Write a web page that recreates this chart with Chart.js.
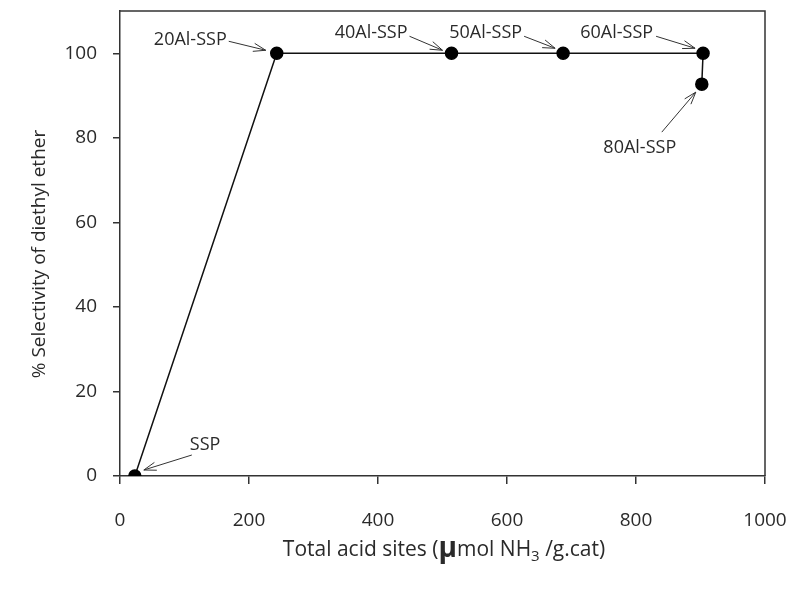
<!DOCTYPE html>
<html>
<head>
<meta charset="utf-8">
<script src="https://cdn.jsdelivr.net/npm/chart.js@4/dist/chart.umd.min.js"></script>
<style>
  html, body { margin: 0; padding: 0; background: #fff; }
  #wrap { width: 792px; height: 593px; }
</style>
</head>
<body>
<div id="wrap"><canvas id="c" width="792" height="593"></canvas></div>
<script>
// Catalyst samples, total acid sites (µmol NH3/g.cat) and DEE selectivity (%)
const samples     = ['SSP', '20Al-SSP', '40Al-SSP', '50Al-SSP', '60Al-SSP', '80Al-SSP'];
const acidSites   = [23, 243, 514, 687, 904, 902];
const selectivity = [0, 100, 100, 100, 100, 92.7];
const xTicks = [0, 200, 400, 600, 800, 1000];
const yTicks = [0, 20, 40, 60, 80, 100];

// label placement around each point: text anchor offset and arrow tail/tip offsets (px)
const labelPlacement = {
  'SSP':      { tx: 55,  ty: -31, align: 'left',   ax0: 57,  ay0: -21, ax1: 9,   ay1: -6 },
  '20Al-SSP': { tx: -50, ty: -13, align: 'right',  ax0: -48, ay0: -12, ax1: -11, ay1: -3 },
  '40Al-SSP': { tx: -44, ty: -20, align: 'right',  ax0: -42, ay0: -17, ax1: -9,  ay1: -3 },
  '50Al-SSP': { tx: -41, ty: -20, align: 'right',  ax0: -39, ay0: -17, ax1: -8,  ay1: -5 },
  '60Al-SSP': { tx: -50, ty: -20, align: 'right',  ax0: -47, ay0: -17, ax1: -8,  ay1: -5 },
  '80Al-SSP': { tx: -62, ty: 64,  align: 'center', ax0: -40, ay0: 48,  ax1: -6,  ay1: 8 }
};

const FONT = '"Open Sans", "DejaVu Sans", sans-serif';
const TEXT = '#2a2a2a';

function arrow(ctx, x0, y0, x1, y1) {
  ctx.beginPath();
  ctx.moveTo(x0, y0);
  ctx.lineTo(x1, y1);
  const a = Math.atan2(y1 - y0, x1 - x0);
  const L = 13, w = 0.32;
  ctx.moveTo(x1 - L * Math.cos(a - w), y1 - L * Math.sin(a - w));
  ctx.lineTo(x1, y1);
  ctx.lineTo(x1 - L * Math.cos(a + w), y1 - L * Math.sin(a + w));
  ctx.stroke();
}

const decorations = {
  id: 'decorations',
  afterDraw(chart) {
    const ctx = chart.ctx;
    const area = chart.chartArea;
    const xs = chart.scales.x, ys = chart.scales.y;
    ctx.save();
    // frame: top and right edges
    ctx.strokeStyle = '#333';
    ctx.lineWidth = 1.5;
    ctx.beginPath();
    ctx.moveTo(area.left, area.top);
    ctx.lineTo(area.right, area.top);
    ctx.lineTo(area.right, area.bottom);
    ctx.stroke();

    // point labels with arrows
    ctx.font = '18px ' + FONT;
    ctx.fillStyle = TEXT;
    ctx.textBaseline = 'middle';
    ctx.strokeStyle = '#333';
    ctx.lineWidth = 1;
    samples.forEach((s, i) => {
      const p = labelPlacement[s];
      const px = xs.getPixelForValue(acidSites[i]);
      const py = ys.getPixelForValue(selectivity[i]);
      ctx.textAlign = p.align;
      ctx.fillText(s, px + p.tx, py + p.ty);
      arrow(ctx, px + p.ax0, py + p.ay0, px + p.ax1, py + p.ay1);
    });

    // y axis title
    ctx.save();
    ctx.translate(40, 254);
    ctx.rotate(-Math.PI / 2);
    ctx.textAlign = 'center';
    ctx.textBaseline = 'middle';
    ctx.font = '19px ' + FONT;
    ctx.fillText('% Selectivity of diethyl ether', 0, 0);
    ctx.restore();

    // x axis title with µ and subscript
    const parts = [
      { t: 'Total acid sites (', f: '21px ' + FONT, dy: 0 },
      { t: 'μ', f: 'bold 28px ' + FONT, dy: 1 },
      { t: 'mol NH', f: '21px ' + FONT, dy: 0 },
      { t: '3', f: '15px ' + FONT, dy: 5 },
      { t: ' /g.cat)', f: '21px ' + FONT, dy: 0 }
    ];
    let total = 0;
    parts.forEach(pt => { ctx.font = pt.f; pt.w = ctx.measureText(pt.t).width; total += pt.w; });
    let x = 444 - total / 2;
    ctx.textAlign = 'left';
    ctx.textBaseline = 'alphabetic';
    parts.forEach(pt => {
      ctx.font = pt.f;
      ctx.fillText(pt.t, x, 556 + pt.dy);
      x += pt.w;
    });
    ctx.restore();
  }
};

new Chart(document.getElementById('c'), {
  type: 'scatter',
  data: {
    datasets: [{
      data: acidSites.map((v, i) => ({ x: v, y: selectivity[i] })),
      showLine: true,
      borderColor: '#111',
      borderWidth: 1.5,
      backgroundColor: '#000',
      pointBackgroundColor: '#000',
      pointBorderColor: '#000',
      pointRadius: 6,
      pointHoverRadius: 6
    }]
  },
  options: {
    responsive: false,
    animation: false,
    layout: { padding: { top: 11, right: 27, left: 0, bottom: 0 } },
    plugins: { legend: { display: false }, tooltip: { enabled: false } },
    scales: {
      x: {
        type: 'linear', min: 0, max: 1000,
        afterBuildTicks: s => { s.ticks = xTicks.map(v => ({ value: v })); },
        afterFit: s => { s.height = 117; s.paddingLeft = 0; s.paddingRight = 0; },
        border: { display: true, color: '#333', width: 1.5 },
        grid: { drawOnChartArea: false, drawTicks: true, tickLength: 8, color: '#333', lineWidth: 1.5 },
        ticks: { font: { family: FONT, size: 19 }, color: TEXT, padding: 25, maxRotation: 0, callback: v => String(v) }
      },
      y: {
        type: 'linear', min: 0, max: 110,
        afterBuildTicks: s => { s.ticks = yTicks.map(v => ({ value: v })); },
        afterFit: s => { s.width = 120; s.paddingTop = 0; s.paddingBottom = 0; },
        border: { display: true, color: '#333', width: 1.5 },
        grid: { drawOnChartArea: false, drawTicks: true, tickLength: 7, color: '#333', lineWidth: 1.5 },
        ticks: { font: { family: FONT, size: 19 }, color: TEXT, padding: 16, callback: v => String(v) }
      }
    }
  },
  plugins: [decorations]
});
</script>
</body>
</html>
